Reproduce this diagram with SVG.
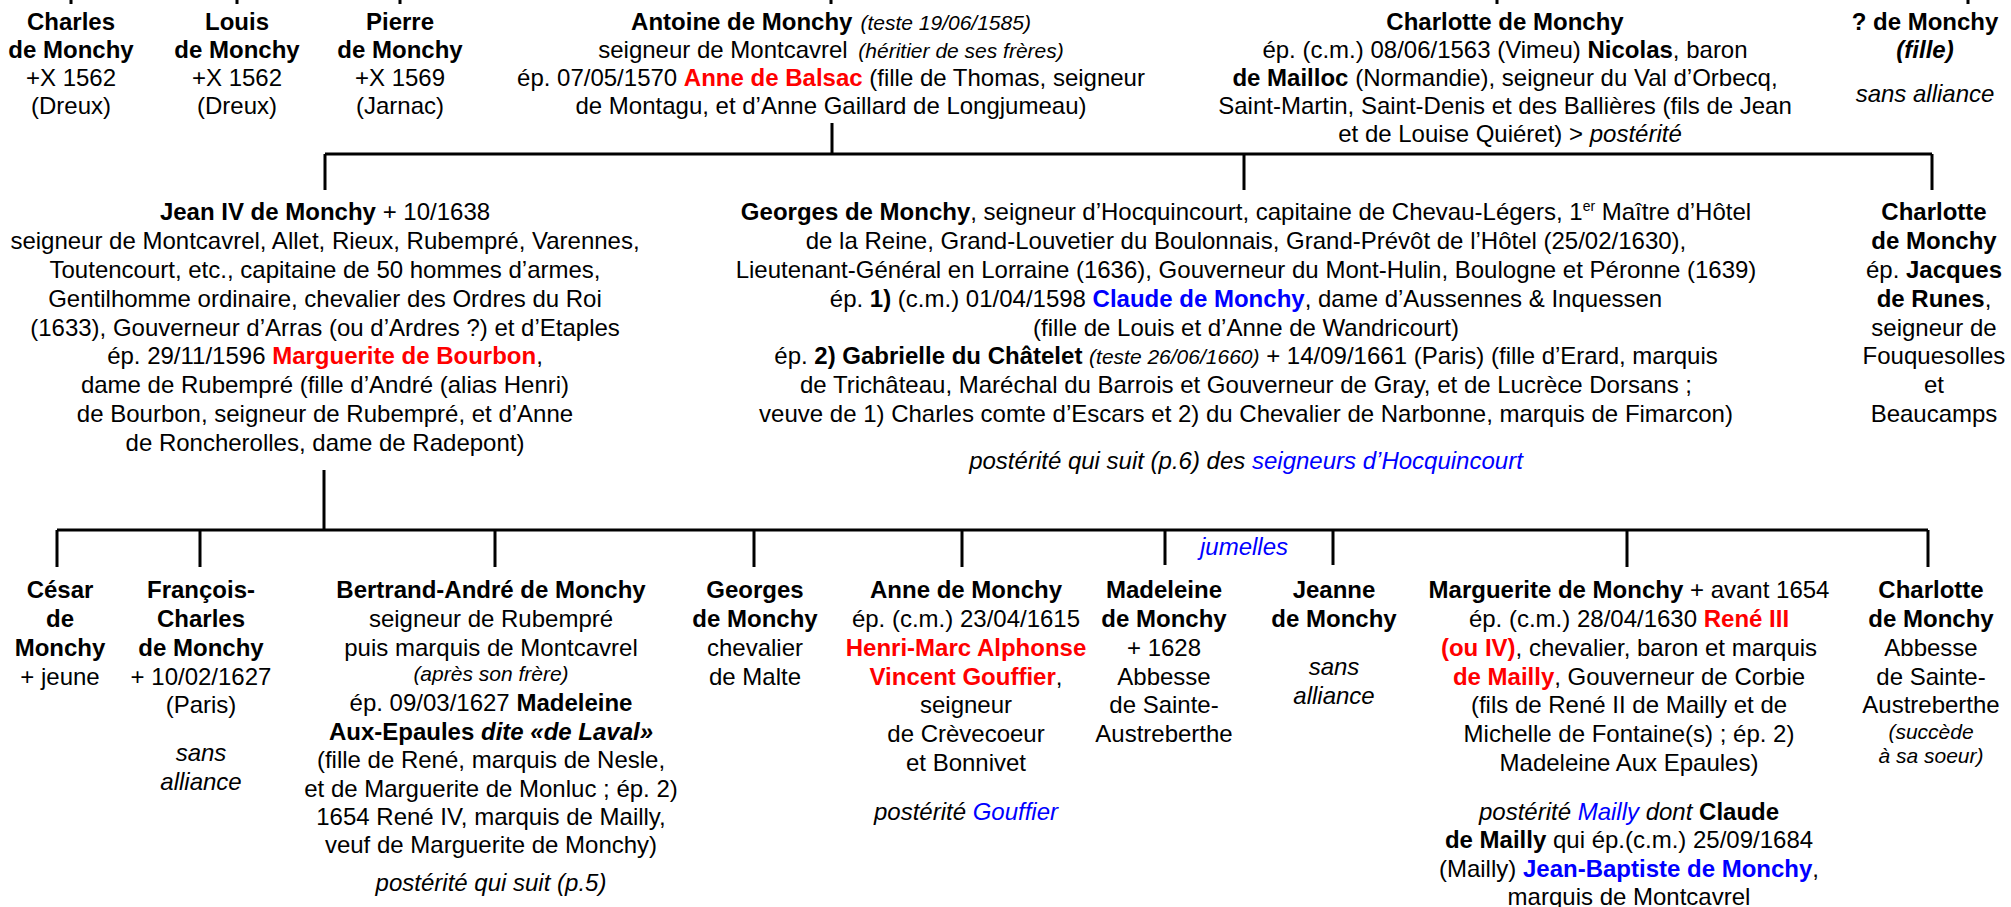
<svg xmlns="http://www.w3.org/2000/svg" width="2011" height="907" viewBox="0 0 2011 907">
<style>
text{font-family:"Liberation Sans",Arial,sans-serif;font-size:24px;fill:#000;text-anchor:middle}
.b{font-weight:bold}
.i{font-style:italic}
.s{font-size:21px}
.r{fill:#ff0000}
.u{fill:#0000ff}
.ln{stroke:#000;stroke-width:3;fill:none}
</style>
<rect width="2011" height="907" fill="#fff"/>
<g id="connectors" class="ln">
<path d="M71 0V4M237 0V4M400 0V4M831 0V4M1497 0V4M1968 0V4"/>
<path d="M832 123V154M325 154H1932M325 154V190M1244 154V190M1932 154V190"/>
<path d="M324 470V530M57 530H1928M57 530V567M200 530V567M495 530V567M754 530V567M962 530V567M1165 530V565M1333 530V565M1627 530V567M1928 530V567"/>
</g>
<g id="charles">
<text x="71" y="30" class="b">Charles</text>
<text x="71" y="58" class="b">de Monchy</text>
<text x="71" y="86">+X 1562</text>
<text x="71" y="114">(Dreux)</text>
</g>
<g id="louis">
<text x="237" y="30" class="b">Louis</text>
<text x="237" y="58" class="b">de Monchy</text>
<text x="237" y="86">+X 1562</text>
<text x="237" y="114">(Dreux)</text>
</g>
<g id="pierre">
<text x="400" y="30" class="b">Pierre</text>
<text x="400" y="58" class="b">de Monchy</text>
<text x="400" y="86">+X 1569</text>
<text x="400" y="114">(Jarnac)</text>
</g>
<g id="antoine">
<text x="831" y="30"><tspan class="b">Antoine de Monchy</tspan><tspan class="i s" dx="8">(teste 19/06/1585)</tspan></text>
<text x="831" y="58">seigneur de Montcavrel <tspan class="i s" dx="4">(héritier de ses frères)</tspan></text>
<text x="831" y="86">ép. 07/05/1570 <tspan class="b r">Anne de Balsac</tspan> (fille de Thomas, seigneur</text>
<text x="831" y="114">de Montagu, et d’Anne Gaillard de Longjumeau)</text>
</g>
<g id="charlotte-mailloc">
<text x="1505" y="30" class="b">Charlotte de Monchy</text>
<text x="1505" y="58">ép. (c.m.) 08/06/1563 (Vimeu) <tspan class="b">Nicolas</tspan>, baron</text>
<text x="1505" y="86"><tspan class="b">de Mailloc</tspan> (Normandie), seigneur du Val d’Orbecq,</text>
<text x="1505" y="114">Saint-Martin, Saint-Denis et des Ballières (fils de Jean</text>
<text x="1510" y="142">et de Louise Quiéret) &gt; <tspan class="i">postérité</tspan></text>
</g>
<g id="fille">
<text x="1925" y="30" class="b">? de Monchy</text>
<text x="1925" y="58" class="b i">(fille)</text>
<text x="1925" y="102" class="i">sans alliance</text>
</g>
<g id="jean-iv">
<text x="325" y="220"><tspan class="b">Jean IV de Monchy</tspan> + 10/1638</text>
<text x="325" y="249">seigneur de Montcavrel, Allet, Rieux, Rubempré, Varennes,</text>
<text x="325" y="278">Toutencourt, etc., capitaine de 50 hommes d’armes,</text>
<text x="325" y="307">Gentilhomme ordinaire, chevalier des Ordres du Roi</text>
<text x="325" y="336">(1633), Gouverneur d’Arras (ou d’Ardres ?) et d’Etaples</text>
<text x="325" y="364">ép. 29/11/1596 <tspan class="b r">Marguerite de Bourbon</tspan>,</text>
<text x="325" y="393">dame de Rubempré (fille d’André (alias Henri)</text>
<text x="325" y="422">de Bourbon, seigneur de Rubempré, et d’Anne</text>
<text x="325" y="451">de Roncherolles, dame de Radepont)</text>
</g>
<g id="georges-hocquincourt">
<text x="1246" y="220"><tspan class="b">Georges de Monchy</tspan>, seigneur d’Hocquincourt, capitaine de Chevau-Légers, 1<tspan font-size="14" dy="-9">er</tspan><tspan dy="9"> Maître d’Hôtel</tspan></text>
<text x="1246" y="249">de la Reine, Grand-Louvetier du Boulonnais, Grand-Prévôt de l’Hôtel (25/02/1630),</text>
<text x="1246" y="278">Lieutenant-Général en Lorraine (1636), Gouverneur du Mont-Hulin, Boulogne et Péronne (1639)</text>
<text x="1246" y="307">ép. <tspan class="b">1)</tspan> (c.m.) 01/04/1598 <tspan class="b u">Claude de Monchy</tspan>, dame d’Aussennes &amp; Inquessen</text>
<text x="1246" y="336">(fille de Louis et d’Anne de Wandricourt)</text>
<text x="1246" y="364">ép. <tspan class="b">2) Gabrielle du Châtelet</tspan> <tspan class="i s">(teste 26/06/1660)</tspan> + 14/09/1661 (Paris) (fille d’Erard, marquis</text>
<text x="1246" y="393">de Trichâteau, Maréchal du Barrois et Gouverneur de Gray, et de Lucrèce Dorsans ;</text>
<text x="1246" y="422">veuve de 1) Charles comte d’Escars et 2) du Chevalier de Narbonne, marquis de Fimarcon)</text>
<text x="1246" y="469" class="i">postérité qui suit (p.6) des <tspan class="u">seigneurs d’Hocquincourt</tspan></text>
</g>
<g id="charlotte-runes">
<text x="1934" y="220" class="b">Charlotte</text>
<text x="1934" y="249" class="b">de Monchy</text>
<text x="1934" y="278">ép. <tspan class="b">Jacques</tspan></text>
<text x="1934" y="307"><tspan class="b">de Runes</tspan>,</text>
<text x="1934" y="336">seigneur de</text>
<text x="1934" y="364">Fouquesolles</text>
<text x="1934" y="393">et</text>
<text x="1934" y="422">Beaucamps</text>
</g>
<g id="cesar">
<text x="60" y="598" class="b">César</text>
<text x="60" y="627" class="b">de</text>
<text x="60" y="656" class="b">Monchy</text>
<text x="60" y="685">+ jeune</text>
</g>
<g id="francois-charles">
<text x="201" y="598" class="b">François-</text>
<text x="201" y="627" class="b">Charles</text>
<text x="201" y="656" class="b">de Monchy</text>
<text x="201" y="685">+ 10/02/1627</text>
<text x="201" y="713">(Paris)</text>
<text x="201" y="761" class="i">sans</text>
<text x="201" y="790" class="i">alliance</text>
</g>
<g id="bertrand-andre">
<text x="491" y="598" class="b">Bertrand-André de Monchy</text>
<text x="491" y="627">seigneur de Rubempré</text>
<text x="491" y="656">puis marquis de Montcavrel</text>
<text x="491" y="681" class="i s">(après son frère)</text>
<text x="491" y="711">ép. 09/03/1627 <tspan class="b">Madeleine</tspan></text>
<text x="491" y="740"><tspan class="b">Aux-Epaules </tspan><tspan class="b i">dite «de Laval»</tspan></text>
<text x="491" y="768">(fille de René, marquis de Nesle,</text>
<text x="491" y="797">et de Marguerite de Monluc ; ép. 2)</text>
<text x="491" y="825">1654 René IV, marquis de Mailly,</text>
<text x="491" y="853">veuf de Marguerite de Monchy)</text>
<text x="491" y="891" class="i">postérité qui suit (p.5)</text>
</g>
<g id="georges-malte">
<text x="755" y="598" class="b">Georges</text>
<text x="755" y="627" class="b">de Monchy</text>
<text x="755" y="656">chevalier</text>
<text x="755" y="685">de Malte</text>
</g>
<g id="anne">
<text x="966" y="598" class="b">Anne de Monchy</text>
<text x="966" y="627">ép. (c.m.) 23/04/1615</text>
<text x="966" y="656" class="b r">Henri-Marc Alphonse</text>
<text x="966" y="685"><tspan class="b r">Vincent Gouffier</tspan>,</text>
<text x="966" y="713">seigneur</text>
<text x="966" y="742">de Crèvecoeur</text>
<text x="966" y="771">et Bonnivet</text>
<text x="966" y="820" class="i">postérité <tspan class="u">Gouffier</tspan></text>
</g>
<g id="jumelles">
<text x="1244" y="555" class="i u" font-size="20">jumelles</text>
</g>
<g id="madeleine">
<text x="1164" y="598" class="b">Madeleine</text>
<text x="1164" y="627" class="b">de Monchy</text>
<text x="1164" y="656">+ 1628</text>
<text x="1164" y="685">Abbesse</text>
<text x="1164" y="713">de Sainte-</text>
<text x="1164" y="742">Austreberthe</text>
</g>
<g id="jeanne">
<text x="1334" y="598" class="b">Jeanne</text>
<text x="1334" y="627" class="b">de Monchy</text>
<text x="1334" y="675" class="i">sans</text>
<text x="1334" y="704" class="i">alliance</text>
</g>
<g id="marguerite">
<text x="1629" y="598"><tspan class="b">Marguerite de Monchy</tspan> + avant 1654</text>
<text x="1629" y="627">ép. (c.m.) 28/04/1630 <tspan class="b r">René III</tspan></text>
<text x="1629" y="656"><tspan class="b r">(ou IV)</tspan>, chevalier, baron et marquis</text>
<text x="1629" y="685"><tspan class="b r">de Mailly</tspan>, Gouverneur de Corbie</text>
<text x="1629" y="713">(fils de René II de Mailly et de</text>
<text x="1629" y="742">Michelle de Fontaine(s) ; ép. 2)</text>
<text x="1629" y="771">Madeleine Aux Epaules)</text>
<text x="1629" y="820"><tspan class="i">postérité </tspan><tspan class="i u">Mailly</tspan><tspan class="i"> dont </tspan><tspan class="b">Claude</tspan></text>
<text x="1629" y="848"><tspan class="b">de Mailly</tspan> qui ép.(c.m.) 25/09/1684</text>
<text x="1629" y="877">(Mailly) <tspan class="b u">Jean-Baptiste de Monchy</tspan>,</text>
<text x="1629" y="905">marquis de Montcavrel</text>
</g>
<g id="charlotte-abbesse">
<text x="1931" y="598" class="b">Charlotte</text>
<text x="1931" y="627" class="b">de Monchy</text>
<text x="1931" y="656">Abbesse</text>
<text x="1931" y="685">de Sainte-</text>
<text x="1931" y="713">Austreberthe</text>
<text x="1931" y="739" class="i s">(succède</text>
<text x="1931" y="763" class="i s">à sa soeur)</text>
</g>
</svg>
